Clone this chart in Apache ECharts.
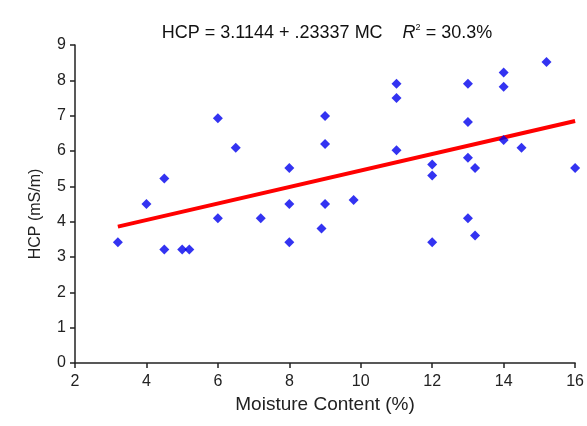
<!DOCTYPE html>
<html>
<head>
<meta charset="utf-8">
<script src="https://cdn.jsdelivr.net/npm/echarts@6/dist/echarts.min.js"></script>
<style>
html,body{margin:0;padding:0;background:#fff;}
#c{width:587px;height:426px;}
</style>
</head>
<body>
<div id="c"></div>
<script>
// Moisture content (%) of each sample
var moisture = [3.2, 4.0, 4.5, 4.5, 5.0, 5.2, 6.0, 6.0, 6.5, 7.2,
                8.0, 8.0, 8.0, 8.9, 9.0, 9.0, 9.0, 9.8, 11.0, 11.0,
                11.0, 12.0, 12.0, 12.0, 13.0, 13.0, 13.0, 13.0, 13.2, 13.2,
                14.0, 14.0, 14.0, 14.5, 15.2, 16.0];
// HCP (mS/m) of each sample
var hcp = [3.42, 4.5, 5.22, 3.21, 3.21, 3.21, 6.93, 4.1, 6.09, 4.1,
           5.52, 4.5, 3.42, 3.81, 6.99, 6.2, 4.5, 4.61, 7.9, 7.5,
           6.02, 5.62, 5.31, 3.42, 7.9, 6.82, 5.81, 4.1, 5.52, 3.61,
           8.22, 7.82, 6.31, 6.09, 8.52, 5.52];
// Fitted line endpoints
var fitX = [3.2, 16.0];
var fitY = [3.86, 6.85];

var xTicks = {min: 2, max: 16, interval: 2};
var yTicks = {min: 0, max: 9, interval: 1};

var points = moisture.map(function (x, i) { return [x, hcp[i]]; });
var fitLine = fitX.map(function (x, i) { return [x, fitY[i]]; });

var FONT = '"Liberation Sans", Arial, sans-serif';
var chart = echarts.init(document.getElementById('c'), null, {renderer: 'canvas'});
chart.setOption({
  backgroundColor: '#ffffff',
  animation: false,
  title: {
    text: '{a|HCP = 3.1144 + .23337 MC    }{i|R}{s|2}{a| = 30.3%}',
    left: 322,
    textAlign: 'center',
    top: 18,
    textStyle: {
      fontFamily: FONT,
      fontWeight: 'normal',
      rich: {
        a: {fontFamily: FONT, fontSize: 18, fontWeight: 'normal', color: '#111', lineHeight: 20},
        i: {fontFamily: FONT, fontSize: 18, fontWeight: 'normal', fontStyle: 'italic', color: '#111', lineHeight: 20},
        s: {fontFamily: FONT, fontSize: 9, fontWeight: 'normal', color: '#111', lineHeight: 20, padding: [0, 0, 11, 0]}
      }
    }
  },
  grid: {left: 75, right: 10, top: 45, bottom: 63, containLabel: false},
  xAxis: {
    type: 'value',
    min: xTicks.min, max: xTicks.max, interval: xTicks.interval,
    name: 'Moisture Content (%)',
    nameLocation: 'middle',
    nameGap: 27,
    nameTextStyle: {fontFamily: FONT, fontSize: 19, color: '#222'},
    axisLine: {show: true, onZero: false, lineStyle: {color: '#222', width: 1.5}},
    axisTick: {show: true, inside: false, length: 5, lineStyle: {color: '#222', width: 1.5}},
    axisLabel: {fontFamily: FONT, fontSize: 16, color: '#222', margin: 11},
    splitLine: {show: false}
  },
  yAxis: {
    type: 'value',
    min: yTicks.min, max: yTicks.max, interval: yTicks.interval,
    name: 'HCP (mS/m)',
    nameLocation: 'middle',
    nameGap: 31,
    nameTextStyle: {fontFamily: FONT, fontSize: 16, color: '#222', padding: [0, 20, 0, 0]},
    axisLine: {show: true, onZero: false, lineStyle: {color: '#222', width: 1.5}},
    axisTick: {show: true, inside: false, length: 5, lineStyle: {color: '#222', width: 1.5}},
    axisLabel: {fontFamily: FONT, fontSize: 16, color: '#222', margin: 9},
    splitLine: {show: false}
  },
  series: [
    {
      type: 'line',
      data: fitLine,
      symbol: 'none',
      lineStyle: {color: '#ff0000', width: 4},
      z: 2
    },
    {
      type: 'scatter',
      data: points,
      symbol: 'diamond',
      symbolSize: 10,
      itemStyle: {color: '#0000ee'},
      z: 3
    }
  ]
});
</script>
</body>
</html>
